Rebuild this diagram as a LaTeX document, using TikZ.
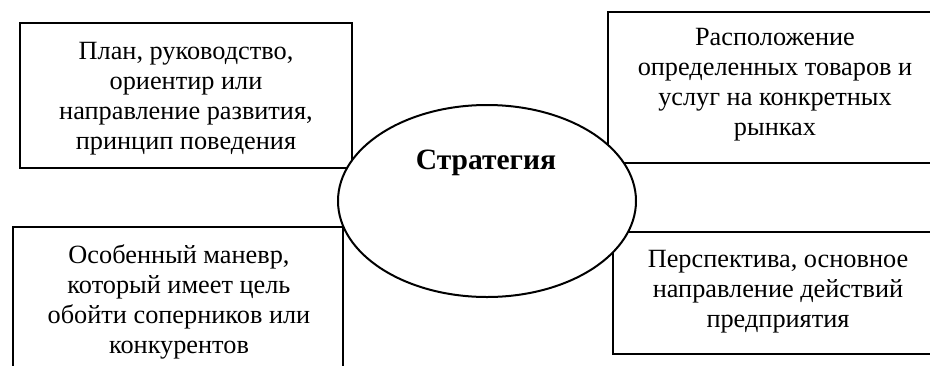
\documentclass[tikz,border=0pt]{standalone}
\usepackage{fontspec}
\setmainfont{Liberation Serif}
\usetikzlibrary{shapes.geometric}
\begin{document}
\begin{tikzpicture}[x=1pt,y=-1pt,
  box/.style={draw, line width=2.4pt, inner sep=0pt},
  txt/.style={align=center, inner sep=0pt, font=\fontsize{26.3}{30}\selectfont},
  oval/.style={ellipse, draw, fill=white, line width=2pt, inner sep=0pt}]
\useasboundingbox (0,0) rectangle (930,365);
\clip (0,0) rectangle (930,365);
% boxes
\node[box, minimum width=332pt, minimum height=145pt] (b1) at (186,95.5) {};
\node[box, minimum width=360pt, minimum height=151pt] (b2) at (788,87.5) {};
\node[box, minimum width=330pt, minimum height=200pt] (b3) at (178,327) {};
\node[box, minimum width=360pt, minimum height=122pt] (b4) at (793,293) {};
% texts
\node[txt] (t1) at (186,99) {План, руководство,\\ориентир или\\направление развития,\\принцип поведения};
\node[txt] (t2) at (775,84.5) {Расположение\\определенных товаров и\\услуг на конкретных\\рынках};
\node[txt] (t3) at (179,301.5) {Особенный маневр,\\который имеет цель\\обойти соперников или\\конкурентов};
\node[txt] (t4) at (778,292) {Перспектива, основное\\направление действий\\предприятия};
% centre
\node[oval, minimum width=298pt, minimum height=192pt] (s) at (487,201) {};
\node[txt, font=\fontsize{29.5}{32}\selectfont\bfseries] (st) at (486,163) {Стратегия};
\end{tikzpicture}
\end{document}
